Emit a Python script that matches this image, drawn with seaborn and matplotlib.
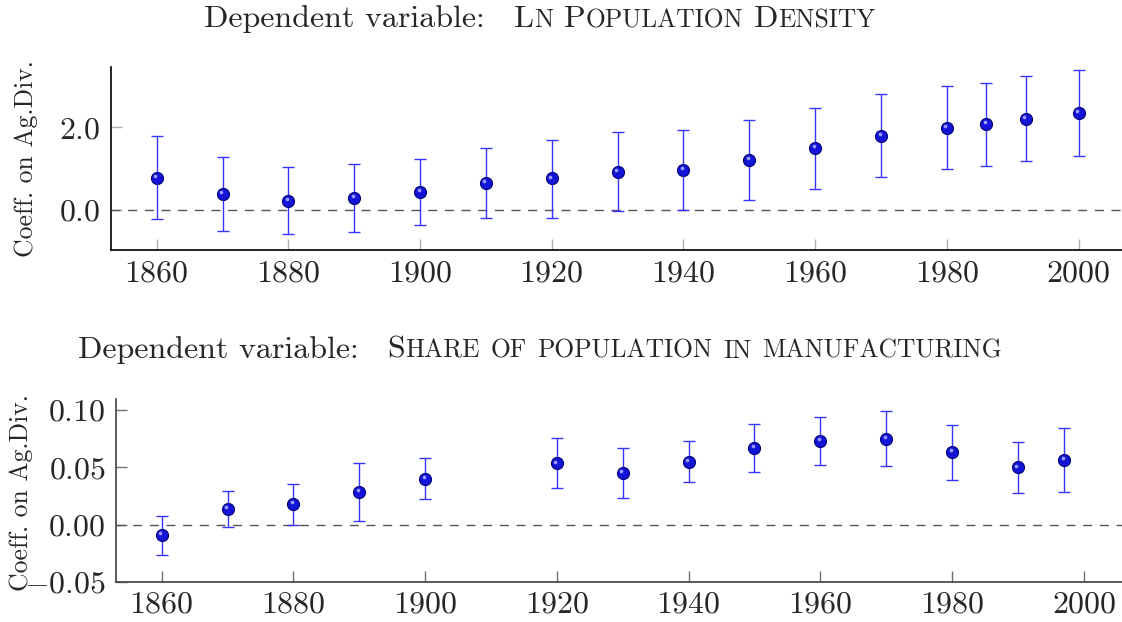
import numpy as np
import matplotlib as mpl
mpl.use('Agg')

import matplotlib.pyplot as plt
import matplotlib.transforms as mtransforms
import seaborn as sns
import pandas as pd

# ---- data ----
# panel 1: Ln population density
years_dens = [1860, 1870, 1880, 1890, 1900, 1910, 1920, 1930, 1940, 1950,
              1960, 1970, 1980, 1986, 1992, 2000]
coef_dens = [0.78, 0.38, 0.22, 0.29, 0.43, 0.66, 0.76, 0.92, 0.97, 1.21,
             1.50, 1.80, 1.99, 2.08, 2.21, 2.35]
lo_dens = [-0.23, -0.52, -0.60, -0.55, -0.38, -0.20, -0.20, -0.03, 0.00, 0.23,
           0.51, 0.80, 0.99, 1.07, 1.19, 1.30]
hi_dens = [1.78, 1.28, 1.04, 1.11, 1.24, 1.50, 1.70, 1.88, 1.93, 2.19,
           2.46, 2.80, 3.00, 3.08, 3.25, 3.40]

# panel 2: share of population in manufacturing
years_manu = [1860, 1870, 1880, 1890, 1900, 1920, 1930, 1940, 1950, 1960,
              1970, 1980, 1990, 1997]
coef_manu = [-0.0094, 0.0137, 0.0178, 0.0287, 0.0401, 0.0535, 0.0453, 0.0550,
             0.0667, 0.0728, 0.0751, 0.0632, 0.0500, 0.0567]
lo_manu = [-0.0263, -0.0023, -0.0006, 0.0035, 0.0219, 0.0316, 0.0231, 0.0368,
           0.0456, 0.0518, 0.0512, 0.0392, 0.0278, 0.0287]
hi_manu = [0.0076, 0.0295, 0.0357, 0.0535, 0.0582, 0.0757, 0.0673, 0.0728,
           0.0877, 0.0939, 0.0994, 0.0874, 0.0719, 0.0848]

xticks = [1860, 1880, 1900, 1920, 1940, 1960, 1980, 2000]
ylabel = "Coeff. on Ag.Div."
title_prefix = "Dependent variable:"
title_dens = "Ln Population Density"
title_manu = "Share of population in manufacturing"

# global params
W, H = 1122, 622
tick_size = 23
label_size = 18.5
title_size = 23
sc_ratio = 0.8

sns.set_style("ticks")
plt.rcParams['font.family'] = 'serif'
plt.rcParams['font.serif'] = ['cmr10', 'DejaVu Serif']
plt.rcParams['mathtext.fontset'] = 'cm'
plt.rcParams['axes.unicode_minus'] = True


def small_caps_title(fig, cx, base_y, plain, smallcaps, size):
    """Lay out 'plain' + quad + smallcaps-text as separate text pieces, centred at cx."""
    renderer = fig.canvas.get_renderer()
    pix = mtransforms.IdentityTransform()
    pieces = []  # (text, size, gap_before_px)
    pieces.append((plain, size, 0.0))
    em = size * fig.dpi / 72.0
    first = True
    for word in smallcaps.split():
        groups = []
        for ch in word:
            s = size if ch.isupper() else size * sc_ratio
            if groups and groups[-1][1] == s:
                groups[-1][0] += ch.upper()
            else:
                groups.append([ch.upper(), s])
        for i, (txt, s) in enumerate(groups):
            gap = 0.0
            if i == 0:
                gap = 0.9 * em if first else 0.333 * em
            pieces.append((txt, s, gap))
        first = False

    texts, x = [], 0.0
    for txt, s, gap in pieces:
        x += gap
        t = fig.text(x, base_y, txt, fontsize=s, ha='left', va='baseline',
                     transform=pix)
        w = t.get_window_extent(renderer).width
        texts.append((t, x))
        x += w
    shift = cx - x / 2.0
    for t, x0 in texts:
        t.set_x(x0 + shift)


def coef_panel(ax, years, coef, lo, hi, xlim, ylim, yticks, yfmt, tick_col, spine_col):
    df = pd.DataFrame({"Year": years, "Coef": coef, "Lo": lo, "Hi": hi})
    err = np.vstack([df["Coef"] - df["Lo"], df["Hi"] - df["Coef"]])

    ax.axhline(0, ls=(0, (6.5, 5.5)), color='#555555', lw=1.0, zorder=1)
    ax.errorbar(df["Year"], df["Coef"], yerr=err, fmt='none', ecolor='#3535ff',
                elinewidth=1.0, capsize=4.2, capthick=1.0, zorder=2)
    sns.scatterplot(data=df, x="Year", y="Coef", ax=ax, s=75, color='#1414d8',
                    edgecolor='#000078', linewidth=0.8, zorder=3)
    # highlight on the balls
    hl = mtransforms.offset_copy(ax.transData, fig=ax.figure, x=-1.5, y=1.8, units='dots')
    ax.scatter(df["Year"], df["Coef"], s=7, color='#9a9aff', linewidth=0,
               transform=hl, zorder=4)

    ax.set_xlim(*xlim)
    ax.set_ylim(*ylim)
    ax.set_xticks(xticks)
    ax.set_yticks(yticks)
    ax.xaxis.set_major_formatter(mpl.ticker.FormatStrFormatter('$%d$'))
    ax.yaxis.set_major_formatter(mpl.ticker.FormatStrFormatter(yfmt))
    ax.tick_params(direction='in', length=8, width=1.0, color=tick_col,
                   labelsize=tick_size, pad=7)
    ax.set_xlabel("")
    ax.set_ylabel("")
    sns.despine(ax=ax)
    for sp in ['left', 'bottom']:
        ax.spines[sp].set_color(spine_col)
        ax.spines[sp].set_linewidth(1.2)


def main():
    fig = plt.figure(figsize=(W / 100, H / 100), dpi=100)

    # axes in pixel measures of the reference
    ax1 = fig.add_axes([110.6 / W, (H - 250) / H, (W - 110.6) / W, (250 - 67.3) / H])
    ax2 = fig.add_axes([115.6 / W, (H - 581.7) / H, (W - 115.6) / W, (581.7 - 399.3) / H])

    coef_panel(ax1, years_dens, coef_dens, lo_dens, hi_dens,
               (1853.0, 2006.6), (-0.98, 3.46), [0.0, 2.0], '$%.1f$',
               '#b0b0b0', 'black')
    coef_panel(ax2, years_manu, coef_manu, lo_manu, hi_manu,
               (1853.0, 2005.8), (-0.05, 0.1095), [-0.05, 0.0, 0.05, 0.10], '$%.2f$',
               '#707070', '#404040')

    fig.text(26 / W, (H - 158.5) / H, ylabel, rotation=90, ha='center', va='center',
             fontsize=label_size)
    fig.text(21 / W, (H - 493) / H, ylabel, rotation=90, ha='center', va='center',
             fontsize=label_size)

    small_caps_title(fig, 540, H - 27, title_prefix, title_dens, title_size)
    small_caps_title(fig, 540, H - 358, title_prefix, title_manu, title_size)

    plt.savefig('out.png', format='png', dpi=100)
    plt.close()


if __name__ == "__main__":
    main()
